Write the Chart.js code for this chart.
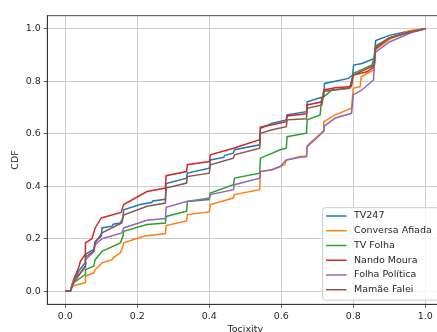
<!DOCTYPE html>
<html><head><meta charset="utf-8">
<script src="https://cdn.jsdelivr.net/npm/chart.js@4/dist/chart.umd.min.js"></script>
<style>
html,body{margin:0;padding:0;overflow:hidden;background:#fff;width:437px;height:332px}
#wrap{position:absolute;left:0;top:0;width:450px;height:340px}
</style>
</head><body><div id="wrap"><canvas id="c" width="450" height="340"></canvas></div>
<script>
// ---- data (x = toxicity, y = CDF) ----
const seriesNames = ["TV247", "Conversa Afiada", "TV Folha", "Nando Moura", "Folha Política", "Mamãe Falei"];
const seriesColors = ["#1f77b4", "#ff7f0e", "#2ca02c", "#d62728", "#9467bd", "#8c564b"];
const xTicks = [0, 0.2, 0.4, 0.6, 0.8, 1.0];
const yTicks = [0, 0.2, 0.4, 0.6, 0.8, 1.0];

const tv247 = [[0,0],[0.014,0],[0.037,0.076],[0.055,0.108],[0.056,0.14],[0.079,0.159],[0.083,0.19],[0.1,0.21],[0.102,0.241],[0.13,0.248],[0.133,0.255],[0.153,0.26],[0.16,0.28],[0.162,0.31],[0.208,0.33],[0.24,0.338],[0.243,0.344],[0.278,0.35],[0.28,0.41],[0.337,0.431],[0.339,0.45],[0.4,0.469],[0.403,0.5],[0.44,0.51],[0.443,0.518],[0.467,0.526],[0.47,0.539],[0.54,0.558],[0.542,0.621],[0.575,0.64],[0.614,0.653],[0.616,0.672],[0.67,0.684],[0.672,0.722],[0.708,0.737],[0.718,0.741],[0.72,0.792],[0.75,0.8],[0.787,0.811],[0.798,0.824],[0.801,0.862],[0.824,0.868],[0.858,0.887],[0.862,0.955],[0.9,0.975],[0.95,0.99],[1,1]];
const conversaAfiada = [[0,0],[0.014,0],[0.02,0.02],[0.055,0.032],[0.056,0.057],[0.079,0.07],[0.083,0.082],[0.102,0.108],[0.13,0.12],[0.133,0.128],[0.153,0.146],[0.16,0.171],[0.162,0.184],[0.218,0.209],[0.278,0.22],[0.28,0.25],[0.337,0.268],[0.339,0.292],[0.4,0.302],[0.403,0.33],[0.467,0.355],[0.47,0.368],[0.54,0.387],[0.542,0.456],[0.574,0.463],[0.61,0.482],[0.614,0.5],[0.653,0.514],[0.67,0.515],[0.672,0.555],[0.708,0.6],[0.716,0.61],[0.718,0.646],[0.75,0.672],[0.795,0.697],[0.8,0.773],[0.819,0.78],[0.822,0.817],[0.856,0.843],[0.861,0.92],[0.9,0.96],[0.955,0.993],[1,1]];
const tvFolha = [[0,0],[0.014,0],[0.02,0.03],[0.055,0.063],[0.056,0.082],[0.079,0.095],[0.083,0.12],[0.102,0.152],[0.153,0.184],[0.16,0.209],[0.162,0.228],[0.227,0.254],[0.278,0.26],[0.28,0.285],[0.337,0.305],[0.339,0.342],[0.4,0.349],[0.403,0.374],[0.467,0.406],[0.47,0.431],[0.54,0.45],[0.542,0.507],[0.597,0.539],[0.614,0.545],[0.616,0.589],[0.67,0.602],[0.672,0.653],[0.708,0.672],[0.712,0.735],[0.741,0.767],[0.79,0.773],[0.8,0.83],[0.852,0.862],[0.858,0.89],[0.862,0.935],[0.9,0.965],[0.95,0.985],[1,1]];
const nandoMoura = [[0,0],[0.014,0],[0.023,0.044],[0.037,0.089],[0.042,0.114],[0.055,0.14],[0.056,0.184],[0.074,0.2],[0.083,0.241],[0.1,0.279],[0.155,0.3],[0.162,0.33],[0.227,0.38],[0.278,0.393],[0.28,0.44],[0.337,0.456],[0.339,0.482],[0.4,0.494],[0.403,0.52],[0.467,0.545],[0.54,0.577],[0.542,0.625],[0.575,0.634],[0.614,0.646],[0.616,0.668],[0.67,0.676],[0.672,0.71],[0.713,0.722],[0.718,0.767],[0.75,0.775],[0.795,0.78],[0.8,0.824],[0.838,0.836],[0.858,0.856],[0.862,0.925],[0.9,0.965],[0.95,0.985],[1,1]];
const folhaPolitica = [[0,0],[0.014,0],[0.02,0.03],[0.055,0.09],[0.056,0.12],[0.079,0.15],[0.083,0.177],[0.102,0.2],[0.157,0.222],[0.162,0.241],[0.227,0.27],[0.278,0.277],[0.28,0.32],[0.337,0.342],[0.4,0.355],[0.403,0.368],[0.467,0.387],[0.47,0.406],[0.54,0.431],[0.542,0.456],[0.574,0.463],[0.597,0.475],[0.61,0.495],[0.614,0.5],[0.653,0.51],[0.67,0.512],[0.672,0.551],[0.708,0.596],[0.718,0.61],[0.72,0.63],[0.75,0.66],[0.795,0.678],[0.8,0.748],[0.824,0.767],[0.856,0.805],[0.861,0.91],[0.9,0.95],[0.96,0.985],[1,1]];
const mamaeFalei = [[0,0],[0.014,0],[0.023,0.035],[0.055,0.095],[0.056,0.13],[0.079,0.152],[0.083,0.184],[0.102,0.222],[0.157,0.26],[0.162,0.29],[0.227,0.324],[0.278,0.336],[0.28,0.393],[0.337,0.412],[0.339,0.437],[0.4,0.45],[0.403,0.482],[0.467,0.507],[0.47,0.52],[0.54,0.545],[0.542,0.602],[0.575,0.615],[0.614,0.627],[0.616,0.653],[0.67,0.657],[0.672,0.697],[0.713,0.71],[0.718,0.761],[0.79,0.775],[0.8,0.824],[0.858,0.86],[0.862,0.93],[0.9,0.965],[0.95,0.985],[1,1]];

const seriesData = [tv247, conversaAfiada, tvFolha, nandoMoura, folhaPolitica, mamaeFalei];

// ---- styling ----
const FONT = "'DejaVu Sans', sans-serif";
const TXT = '#262626';

const datasets = seriesNames.map((name, i) => ({
  label: name,
  data: seriesData[i].map(p => ({x: p[0], y: p[1]})),
  borderColor: seriesColors[i],
  backgroundColor: seriesColors[i],
  borderWidth: 1.5,
  showLine: true,
  pointRadius: 0,
  pointHoverRadius: 0,
  tension: 0,
  fill: false,
  order: seriesNames.length - i
}));

const framePlugin = {
  id: 'frame',
  afterDatasetsDraw(chart) {
    const {ctx, chartArea: a} = chart;
    ctx.save();
    ctx.strokeStyle = '#333';
    ctx.lineWidth = 0.9;
    ctx.strokeRect(a.left, a.top, a.right - a.left, a.bottom - a.top);
    ctx.restore();
  }
};

const legendPlugin = {
  id: 'mplLegend',
  afterDraw(chart) {
    const ctx = chart.ctx;
    const x0 = 322.7, y0 = 207.7, w = 116, h = 92.5, r = 2.5;
    ctx.save();
    ctx.beginPath();
    ctx.moveTo(x0 + r, y0);
    ctx.lineTo(x0 + w - r, y0); ctx.arcTo(x0 + w, y0, x0 + w, y0 + r, r);
    ctx.lineTo(x0 + w, y0 + h - r); ctx.arcTo(x0 + w, y0 + h, x0 + w - r, y0 + h, r);
    ctx.lineTo(x0 + r, y0 + h); ctx.arcTo(x0, y0 + h, x0, y0 + h - r, r);
    ctx.lineTo(x0, y0 + r); ctx.arcTo(x0, y0, x0 + r, y0, r);
    ctx.closePath();
    ctx.fillStyle = 'rgba(255,255,255,0.8)';
    ctx.fill();
    ctx.strokeStyle = '#cccccc';
    ctx.lineWidth = 1;
    ctx.stroke();
    ctx.font = '9.5px ' + FONT;
    ctx.textBaseline = 'middle';
    ctx.textAlign = 'left';
    chart.data.datasets.forEach((ds, i) => {
      const cy = 216 + i * 14.75;
      ctx.beginPath();
      ctx.strokeStyle = ds.borderColor;
      ctx.lineWidth = 1.5;
      ctx.moveTo(326, cy); ctx.lineTo(346.5, cy);
      ctx.stroke();
      ctx.fillStyle = TXT;
      ctx.fillText(ds.label, 354, cy);
    });
    ctx.restore();
  }
};

const axisCommon = (ticksArr) => ({
  type: 'linear',
  min: -0.05,
  max: 1.05,
  afterBuildTicks: s => { s.ticks = ticksArr.map(v => ({value: v})); },
  ticks: {
    callback: v => Number(v).toFixed(1),
    color: TXT,
    font: {family: FONT, size: 9.5},
    padding: 3,
    maxRotation: 0,
    autoSkip: false
  },
  grid: {color: '#c2c2c2', lineWidth: 0.8, tickLength: 3.5, tickColor: '#333', drawTicks: true},
  border: {display: true, color: '#333', width: 0.9}
});

const xScale = Object.assign(axisCommon(xTicks), {
  title: {display: true, text: 'Tocixity', color: TXT, font: {family: FONT, size: 9.5}, padding: {top: 0, bottom: 5}},
  afterFit: s => { s.height = 340 - 304.3; }
});
const yScale = Object.assign(axisCommon(yTicks), {
  title: {display: true, text: 'CDF', color: TXT, font: {family: FONT, size: 9.5}, padding: {top: 10, bottom: 0}},
  afterFit: s => { s.width = 47.3; }
});

new Chart(document.getElementById('c'), {
  type: 'scatter',
  data: {datasets},
  options: {
    responsive: false,
    animation: false,
    devicePixelRatio: 1,
    layout: {padding: {left: 0, top: 15.7, right: 6.7, bottom: 0}},
    plugins: {legend: {display: false}, tooltip: {enabled: false}},
    scales: {x: xScale, y: yScale}
  },
  plugins: [framePlugin, legendPlugin]
});
</script>
</body></html>
